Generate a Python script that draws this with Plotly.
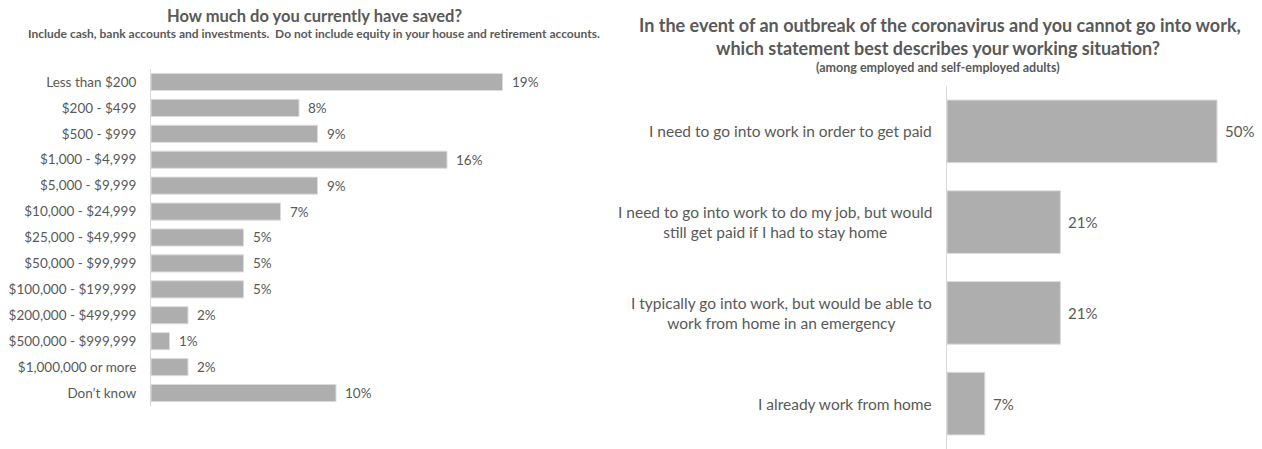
import plotly.graph_objects as go

# Savings question
saved_labels = [
    "Less than $200", "$200 - $499", "$500 - $999", "$1,000 - $4,999",
    "$5,000 - $9,999", "$10,000 - $24,999", "$25,000 - $49,999",
    "$50,000 - $99,999", "$100,000 - $199,999", "$200,000 - $499,999",
    "$500,000 - $999,999", "$1,000,000 or more", "Don\u2019t know",
]
saved_pct = [19, 8, 9, 16, 9, 7, 5, 5, 5, 2, 1, 2, 10]

# Working situation question
work_labels = [
    "I need to go into work in order to get paid",
    "I need to go into work to do my job, but would<br>still get paid if I had to stay home",
    "I typically go into work, but would be able to<br>work from home in an emergency",
    "I already work from home",
]
work_pct = [50, 21, 21, 7]

BAR = "#AEAEAE"
EDGE = "#DCDCDC"
TXT = "#595959"
FONT = "Lato"

W, H = 1262, 449


def px_x(p):
    return p / W


def px_y(p):
    return 1 - p / H


fig = go.Figure()

fig.add_trace(go.Bar(
    x=saved_pct, y=saved_labels, orientation="h",
    xaxis="x", yaxis="y", width=0.66,
    marker=dict(color=BAR, line=dict(color=EDGE, width=1)),
    hoverinfo="skip",
))

fig.add_trace(go.Bar(
    x=work_pct, y=work_labels, orientation="h",
    xaxis="x2", yaxis="y2", width=0.69,
    marker=dict(color=BAR, line=dict(color=EDGE, width=1)),
    hoverinfo="skip",
))

annotations = []

# Value labels just past the bar ends
for lab, v in zip(saved_labels, saved_pct):
    annotations.append(dict(
        x=v, y=lab, xref="x", yref="y", xanchor="left", yanchor="middle",
        xshift=7, text=f"{v}%", showarrow=False,
        font=dict(family=FONT, size=13.5, color=TXT),
    ))
for lab, v in zip(work_labels, work_pct):
    annotations.append(dict(
        x=v, y=lab, xref="x2", yref="y2", xanchor="left", yanchor="middle",
        xshift=6, text=f"{v}%", showarrow=False,
        font=dict(family=FONT, size=15, color=TXT),
    ))

# Right-panel category labels: centred multi-line blocks, right edge near the axis
for lab in work_labels:
    annotations.append(dict(
        x=px_x(934), xref="paper", xanchor="right",
        y=lab, yref="y2", yanchor="middle",
        text=lab, align="center", showarrow=False,
        font=dict(family=FONT, size=15.5, color=TXT),
    ))

# Titles
annotations += [
    dict(x=px_x(314), y=px_y(16), xref="paper", yref="paper",
         text="<b>How much do you currently have saved?</b>", showarrow=False,
         xanchor="center", yanchor="middle",
         font=dict(family=FONT, size=16.5, color=TXT)),
    dict(x=px_x(314), y=px_y(34), xref="paper", yref="paper",
         text="<b>Include cash, bank accounts and investments.  Do not include equity in your house and retirement accounts.</b>",
         showarrow=False, xanchor="center", yanchor="middle",
         font=dict(family=FONT, size=12, color=TXT)),
    dict(x=px_x(940), y=px_y(25), xref="paper", yref="paper",
         text="<b>In the event of an outbreak of the coronavirus and you cannot go into work,</b>",
         showarrow=False, xanchor="center", yanchor="middle",
         font=dict(family=FONT, size=18, color=TXT)),
    dict(x=px_x(938), y=px_y(48), xref="paper", yref="paper",
         text="<b>which statement best describes your working situation?</b>",
         showarrow=False, xanchor="center", yanchor="middle",
         font=dict(family=FONT, size=18, color=TXT)),
    dict(x=px_x(938), y=px_y(68), xref="paper", yref="paper",
         text="<b>(among employed and self-employed adults)</b>",
         showarrow=False, xanchor="center", yanchor="middle",
         font=dict(family=FONT, size=12.5, color=TXT)),
]

fig.update_layout(
    width=W, height=H,
    margin=dict(l=0, r=0, t=0, b=0),
    paper_bgcolor="white", plot_bgcolor="white",
    showlegend=False,
    annotations=annotations,
    xaxis=dict(domain=[px_x(151), px_x(521)], range=[0, 20], anchor="y",
               visible=False, fixedrange=True),
    yaxis=dict(domain=[px_y(406), px_y(69)], autorange="reversed", anchor="x",
               type="category", showline=True, linecolor="#D9D9D9", linewidth=1,
               showgrid=False, ticks="", ticklabelstandoff=11,
               tickfont=dict(family=FONT, size=13.5, color=TXT)),
    xaxis2=dict(domain=[px_x(947), px_x(1244)], range=[0, 55], anchor="y2",
                visible=False, fixedrange=True),
    yaxis2=dict(domain=[0, px_y(86)], autorange="reversed", anchor="x2",
                type="category", showline=True, linecolor="#D9D9D9", linewidth=1,
                showgrid=False, ticks="", showticklabels=False),
)

fig.write_html("out.html")
